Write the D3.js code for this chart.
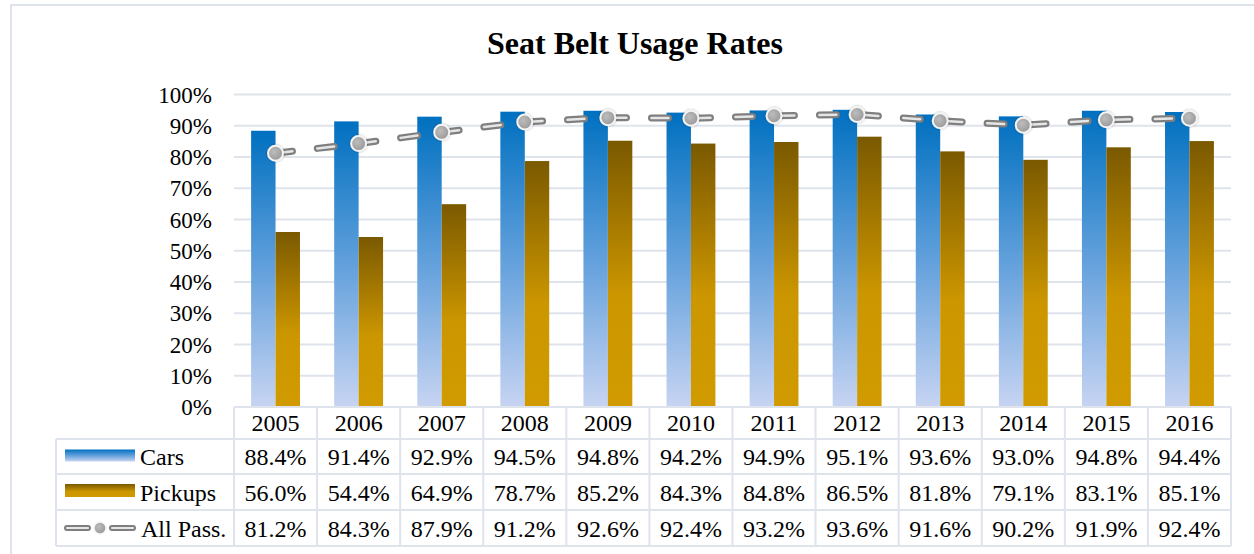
<!DOCTYPE html>
<html>
<head>
<meta charset="utf-8">
<script src="https://cdn.jsdelivr.net/npm/d3@7"></script>
<style>
  body { margin: 0; background: #fff; }
  text { font-family: "Liberation Serif", "Times New Roman", serif; fill: #000; }
</style>
</head>
<body>
<div id="viz"></div>
<script>
var years = ['2005', '2006', '2007', '2008', '2009', '2010', '2011', '2012', '2013', '2014', '2015', '2016']
var cars = [88.4, 91.4, 92.9, 94.5, 94.8, 94.2, 94.9, 95.1, 93.6, 93.0, 94.8, 94.4]
var pickups = [56.0, 54.4, 64.9, 78.7, 85.2, 84.3, 84.8, 86.5, 81.8, 79.1, 83.1, 85.1]
var allPass = [81.2, 84.3, 87.9, 91.2, 92.6, 92.4, 93.2, 93.6, 91.6, 90.2, 91.9, 92.4]
var yTicks = [0, 10, 20, 30, 40, 50, 60, 70, 80, 90, 100]
var rowNames = ['Cars', 'Pickups', 'All Pass.']

var width = 1254, height = 554;
var plotLeft = 234, plotRight = 1231, plotTop = 94.5, plotBottom = 407;
var tableLeft = 56;
var rowLines = [407, 439, 474, 510, 546];
var gridColor = '#dfe3ec';

var svg = d3.select('#viz')
  .append('svg')
  .attr('width', width)
  .attr('height', height)

var defs = svg.append('defs')

var carGrad = defs.append('linearGradient').attr('id', 'carGrad')
  .attr('x1', 0).attr('y1', 0).attr('x2', 0).attr('y2', 1)
carGrad.append('stop').attr('offset', 0).attr('stop-color', '#0070c0')
carGrad.append('stop').attr('offset', 0.5).attr('stop-color', '#62a0dc')
carGrad.append('stop').attr('offset', 1).attr('stop-color', '#c7d4f2')

var pickGrad = defs.append('linearGradient').attr('id', 'pickGrad')
  .attr('x1', 0).attr('y1', 0).attr('x2', 0).attr('y2', 1)
pickGrad.append('stop').attr('offset', 0).attr('stop-color', '#7a5900')
pickGrad.append('stop').attr('offset', 0.58).attr('stop-color', '#cc9600')
pickGrad.append('stop').attr('offset', 1).attr('stop-color', '#d09a00')

var dotGrad = defs.append('radialGradient').attr('id', 'dotGrad')
  .attr('cx', 0.4).attr('cy', 0.4).attr('r', 0.6)
dotGrad.append('stop').attr('offset', 0).attr('stop-color', '#bdbdbd')
dotGrad.append('stop').attr('offset', 1).attr('stop-color', '#9a9a9a')

var shadow = defs.append('filter').attr('id', 'shadow')
  .attr('x', '-50%').attr('y', '-50%').attr('width', '200%').attr('height', '200%')
shadow.append('feDropShadow').attr('dx', 0).attr('dy', 0).attr('stdDeviation', 1.2)
  .attr('flood-color', '#000').attr('flood-opacity', 0.35)

// outer frame
svg.append('rect')
  .attr('x', 11).attr('y', 5).attr('width', 1300).attr('height', 600)
  .attr('fill', 'none').attr('stroke', gridColor).attr('stroke-width', 2)

// title
svg.append('text')
  .attr('x', 635).attr('y', 54)
  .attr('text-anchor', 'middle')
  .style('font-size', '32px').style('font-weight', 'bold')
  .text('Seat Belt Usage Rates')

var xScale = d3.scaleBand()
  .domain(years)
  .range([plotLeft, plotRight])

var xSub = d3.scaleBand()
  .domain(['cars', 'pickups'])
  .range([0, xScale.bandwidth()])
  .paddingInner(0)
  .paddingOuter(0.7)

var yScale = d3.scaleLinear()
  .domain([0, 100])
  .range([plotBottom, plotTop])

// gridlines
svg.append('g').selectAll('line').data(yTicks.filter(function(d) { return d > 0; }))
  .enter().append('line')
  .attr('x1', plotLeft).attr('x2', plotRight)
  .attr('y1', function(d) { return yScale(d); })
  .attr('y2', function(d) { return yScale(d); })
  .attr('stroke', gridColor).attr('stroke-width', 2)

// y tick labels
svg.append('g').selectAll('text').data(yTicks)
  .enter().append('text')
  .attr('x', 212)
  .attr('y', function(d) { return yScale(d) + 8; })
  .attr('text-anchor', 'end')
  .style('font-size', '23px')
  .text(function(d) { return d + '%'; })

// bars
svg.append('g').selectAll('rect').data(cars)
  .enter().append('rect')
  .attr('x', function(d, i) { return xScale(years[i]) + xSub('cars'); })
  .attr('width', xSub.bandwidth())
  .attr('y', function(d) { return yScale(d); })
  .attr('height', function(d) { return plotBottom - yScale(d); })
  .attr('fill', 'url(#carGrad)')

svg.append('g').selectAll('rect').data(pickups)
  .enter().append('rect')
  .attr('x', function(d, i) { return xScale(years[i]) + xSub('pickups'); })
  .attr('width', xSub.bandwidth())
  .attr('y', function(d) { return yScale(d); })
  .attr('height', function(d) { return plotBottom - yScale(d); })
  .attr('fill', 'url(#pickGrad)')

// all passenger line
var line = d3.line()
  .x(function(d, i) { return xScale(years[i]) + xScale.bandwidth() / 2; })
  .y(function(d) { return yScale(d); })

svg.append('path').datum(allPass)
  .attr('d', line)
  .attr('fill', 'none').attr('stroke', '#7f7f7f').attr('stroke-width', 7)
  .attr('stroke-linecap', 'round').attr('stroke-dasharray', '17,25')
svg.append('path').datum(allPass)
  .attr('d', line)
  .attr('fill', 'none').attr('stroke', '#e6e6e6').attr('stroke-width', 2.5)
  .attr('stroke-linecap', 'round').attr('stroke-dasharray', '17,25')

svg.append('g').selectAll('circle').data(allPass)
  .enter().append('circle')
  .attr('cx', function(d, i) { return xScale(years[i]) + xScale.bandwidth() / 2; })
  .attr('cy', function(d) { return yScale(d); })
  .attr('r', 7.5)
  .attr('fill', 'url(#dotGrad)')
  .attr('stroke', '#f4f4f4').attr('stroke-width', 2)
  .attr('filter', 'url(#shadow)')

// data table
var table = svg.append('g')
var rowMid = function(r) { return (rowLines[r] + rowLines[r + 1]) / 2; }

// horizontal lines
table.append('line')
  .attr('x1', plotLeft).attr('x2', plotRight)
  .attr('y1', rowLines[0]).attr('y2', rowLines[0])
  .attr('stroke', gridColor).attr('stroke-width', 2)
table.selectAll('.hline').data(rowLines.slice(1))
  .enter().append('line')
  .attr('x1', tableLeft).attr('x2', plotRight)
  .attr('y1', function(d) { return d; }).attr('y2', function(d) { return d; })
  .attr('stroke', gridColor).attr('stroke-width', 2)

// vertical lines
var colEdges = years.map(function(y) { return xScale(y); }).concat([plotRight]);
table.selectAll('.vline').data(colEdges)
  .enter().append('line')
  .attr('x1', function(d) { return d; }).attr('x2', function(d) { return d; })
  .attr('y1', rowLines[0]).attr('y2', rowLines[4])
  .attr('stroke', gridColor).attr('stroke-width', 2)
table.append('line')
  .attr('x1', tableLeft).attr('x2', tableLeft)
  .attr('y1', rowLines[1]).attr('y2', rowLines[4])
  .attr('stroke', gridColor).attr('stroke-width', 2)

// header years
table.selectAll('.yr').data(years)
  .enter().append('text')
  .attr('x', function(d) { return xScale(d) + xScale.bandwidth() / 2; })
  .attr('y', rowMid(0) + 8)
  .attr('text-anchor', 'middle')
  .style('font-size', '24px')
  .text(function(d) { return d; })

var series = [cars, pickups, allPass]
series.forEach(function(vals, r) {
  table.selectAll('.v' + r).data(vals)
    .enter().append('text')
    .attr('x', function(d, i) { return xScale(years[i]) + xScale.bandwidth() / 2; })
    .attr('y', rowMid(r + 1) + 8.5)
    .attr('text-anchor', 'middle')
    .style('font-size', '24px')
    .text(function(d) { return d.toFixed(1) + '%'; })
})

// row labels with legend keys
table.selectAll('.rl').data(rowNames)
  .enter().append('text')
  .attr('x', function(d, i) { return i == 2 ? 141 : 140; })
  .attr('y', function(d, i) { return rowMid(i + 1) + 8.5; })
  .style('font-size', '24px')
  .text(function(d) { return d; })

table.append('rect')
  .attr('x', 65).attr('y', rowMid(1) - 7).attr('width', 70).attr('height', 12)
  .attr('fill', 'url(#carGrad)')
table.append('rect')
  .attr('x', 65).attr('y', rowMid(2) - 8).attr('width', 70).attr('height', 13)
  .attr('fill', 'url(#pickGrad)')

var ly = rowMid(3);
[[67, 88], [112, 133]].forEach(function(seg) {
  table.append('line')
    .attr('x1', seg[0]).attr('x2', seg[1]).attr('y1', ly).attr('y2', ly)
    .attr('stroke', '#7f7f7f').attr('stroke-width', 6).attr('stroke-linecap', 'round')
  table.append('line')
    .attr('x1', seg[0]).attr('x2', seg[1]).attr('y1', ly).attr('y2', ly)
    .attr('stroke', '#e6e6e6').attr('stroke-width', 2).attr('stroke-linecap', 'round')
})
table.append('circle')
  .attr('cx', 100).attr('cy', ly).attr('r', 6)
  .attr('fill', 'url(#dotGrad)')
  .attr('stroke', '#f4f4f4').attr('stroke-width', 1.5)
</script>
</body>
</html>
